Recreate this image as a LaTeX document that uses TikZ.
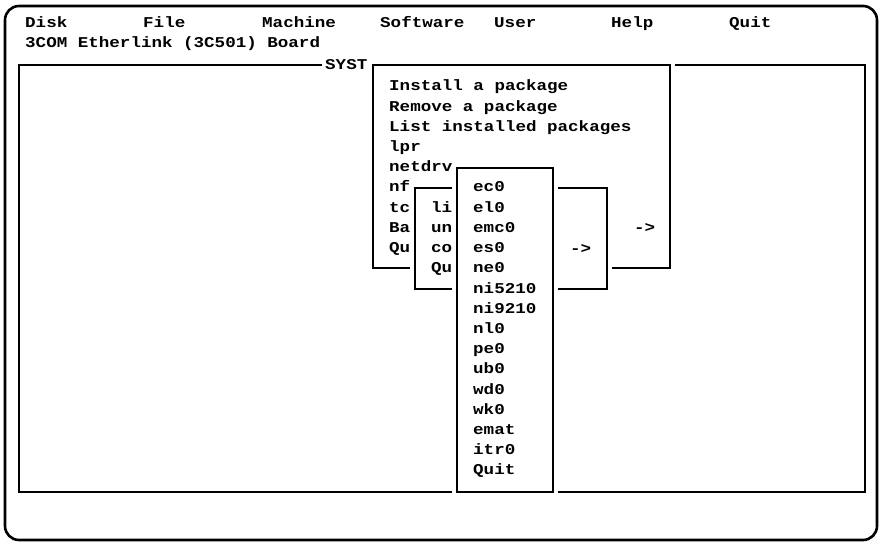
\documentclass[tikz,border=0pt]{standalone}
\usepackage{fontspec}
\setmonofont[FakeStretch=1.17]{Liberation Mono}
\begin{document}
\begin{tikzpicture}
  [x=1pt, y=-1pt,
   scr/.style={font=\fontsize{15}{18}\selectfont\ttfamily\bfseries, anchor=base west, inner sep=0pt},
   frame/.style={line width=1.2pt},
   margin/.style={fill=white}]
  \useasboundingbox (0,0) rectangle (882,545);
  \draw[line width=2.6pt, rounded corners=14pt] (5,6) rectangle (877,540);
  \foreach \word/\xpos [count=\i] in {Disk/25, File/143, Machine/262, Software/380, User/494, Help/611, Quit/729}
    \node[scr] (menu-\i) at (\xpos,28) {\word};
  \node[scr] (board) at (25,48) {3COM Etherlink (3C501) Board};
  \draw[frame] (19,65) rectangle (865,492);
  \node[scr, fill=white, inner xsep=3pt] (title) at (322,70) {SYST};
  \fill[margin] (368,60) rectangle (675,273);
  \draw[frame] (373,65) rectangle (670,268);
  \foreach \txt [count=\i from 0] in {Install a package, Remove a package, List installed packages, lpr, netdrv, nf, tc, Ba, Qu}
    \node[scr] (pkg-\i) at (389,91+20.2*\i) {\txt};
  \node[scr] (pkg-arrow) at (634,233) {->};
  \fill[margin] (410,183) rectangle (612,294);
  \draw[frame] (415,188) rectangle (607,289);
  \foreach \txt [count=\i from 0] in {li, un, co, Qu}
    \node[scr] (opt-\i) at (431,212.2+20.2*\i) {\txt};
  \node[scr] (opt-arrow) at (570,253) {->};
  \fill[margin] (452,163) rectangle (558,497);
  \draw[frame] (457,168) rectangle (553,492);
  \foreach \txt [count=\i from 0] in {ec0, el0, emc0, es0, ne0, ni5210, ni9210, nl0, pe0, ub0, wd0, wk0, emat, itr0, Quit}
    \node[scr] (drv-\i) at (473,192+20.2*\i) {\txt};
\end{tikzpicture}
\end{document}
